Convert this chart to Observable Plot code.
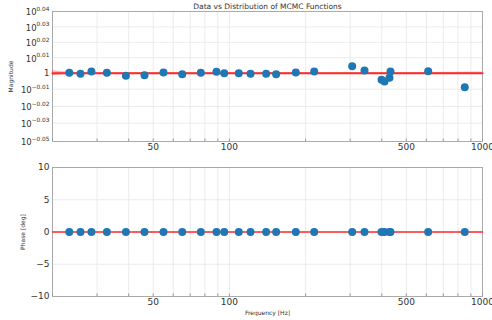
<!DOCTYPE html>
<html><head><meta charset="utf-8">
<script src="https://cdn.jsdelivr.net/npm/d3@7"></script>
<script src="https://cdn.jsdelivr.net/npm/@observablehq/plot@0.6"></script>
<style>
body{margin:0;background:#fff;font-family:"DejaVu Sans",sans-serif;}
#chart svg{display:block;}
</style>
</head><body><div id="chart"></div>
<script>
// Measured data points
const freqs = [23.3, 25.8, 28.5, 32.8, 39.0, 46.2, 54.9, 65.1, 77.1, 88.9, 95.4, 108.9, 121.2, 139.7, 153, 183, 216.3, 305.6, 341.8, 399, 410, 429, 432.9, 610, 851];
const magnitudes = [1.0006, 0.9991, 1.0025, 1.0006, 0.9961, 0.9970, 1.0010, 0.9985, 1.0006, 1.0021, 1.0000, 1.0000, 0.9991, 0.9991, 0.9985, 1.0010, 1.0025, 1.0105, 1.0040, 0.9902, 0.9877, 0.9932, 1.0025, 1.0030, 0.9793];
const phases = [0, 0, 0, 0, 0, 0, 0, 0, 0, 0, 0, 0, 0, 0, 0, 0, 0, 0, 0, 0, 0, 0, 0, 0, 0];

// Model (MCMC distribution) curve and band
const modelFreq = [20, 1000];
const modelMag = [1.0, 1.0];
const modelPhase = [0, 0];
const bandFreq = [20, 21, 22, 23, 25, 30, 100, 400, 600, 800, 1000];
const bandLow  = [0.9963, 0.9970, 0.9977, 0.9984, 0.9991, 0.9995, 0.9995, 0.9995, 0.9991, 0.9986, 0.9982];
const bandHigh = [1.0037, 1.0030, 1.0023, 1.0016, 1.0009, 1.0005, 1.0005, 1.0005, 1.0009, 1.0014, 1.0018];

// Axes
const xTicks = [50, 100, 500, 1000];
const xGrid = [20, 30, 40, 50, 60, 70, 80, 90, 100, 200, 300, 400, 500, 600, 700, 800, 900, 1000];
const magTickExp = [0.04, 0.03, 0.02, 0.01, 0, -0.0104, -0.0216, -0.0324, -0.0443];
const magTickLabels = ["10^0.04", "10^0.03", "10^0.02", "10^0.01", "1", "10^−0.01", "10^−0.02", "10^−0.03", "10^−0.05"];
const phaseTicks = [10, 5, 0, -5, -10];

const pts = freqs.map((f, i) => ({f, m: magnitudes[i], p: phases[i]}));
const model = modelFreq.map((f, i) => ({f, m: modelMag[i], p: modelPhase[i]}));
const band = bandFreq.map((f, i) => ({f, lo: bandLow[i], hi: bandHigh[i]}));

const W = 492;
const gridColor = "#e6e6e6";
const textColor = "#333";
const dotColor = "#1f77b4";
const redColor = "#ff2a2a";

const topPlot = Plot.plot({
  width: W, height: 155,
  marginLeft: 52, marginRight: 10, marginTop: 11, marginBottom: 14,
  style: {fontFamily: "DejaVu Sans", background: "#fff", overflow: "visible"},
  x: {type: "log", domain: [20, 1000], label: null},
  y: {domain: [-0.0443, 0.04], label: null},
  marks: [
    Plot.ruleX(xGrid, {stroke: gridColor, strokeWidth: 0.8}),
    Plot.ruleY(magTickExp, {stroke: gridColor, strokeWidth: 0.8}),
    Plot.frame({stroke: "#aaa"}),
    Plot.areaY(band, {x: "f", y1: d => Math.log10(d.lo), y2: d => Math.log10(d.hi), fill: "#ff0000", fillOpacity: 0.3}),
    Plot.line(model, {x: "f", y: d => Math.log10(d.m), stroke: redColor, strokeWidth: 2}),
    Plot.dot(pts, {x: "f", y: d => Math.log10(d.m), r: 4, fill: dotColor}),
    Plot.axisX({ticks: xGrid, tickSize: 2.5, dy: -2.5, tickFormat: () => "", stroke: "#999", label: null}),
    Plot.axisX({ticks: xTicks, tickFormat: d => String(d), tickSize: 0, tickPadding: 2, fontSize: 9, color: textColor, label: null}),
    Plot.axisY({ticks: magTickExp, tickFormat: (d, i) => magTickLabels[i], tickSize: 0, tickPadding: 3, fontSize: 8.5, color: textColor, label: null}),
    Plot.text(["Data vs Distribution of MCMC Functions"], {frameAnchor: "top", lineAnchor: "middle", textAnchor: "middle", dy: -4.5, fontSize: 7.5, fill: textColor}),
    Plot.text(["Magnitude"], {frameAnchor: "left", textAnchor: "middle", lineAnchor: "middle", rotate: -90, dx: -41, fontSize: 6, fill: textColor})
  ]
});

// superscript exponents on magnitude ticks
d3.select(topPlot).selectAll('g[aria-label="y-axis tick label"] text').each(function() {
  const t = this.textContent;
  if (t.includes("^")) {
    const [base, exp] = t.split("^");
    const sel = d3.select(this);
    sel.text(null);
    sel.append("tspan").attr("dy", "1.2").text(base);
    sel.append("tspan").attr("dy", "-4.6").attr("font-size", 5.8).text(exp);
  }
});

const botPlot = Plot.plot({
  width: W, height: 165,
  marginLeft: 52, marginRight: 10, marginTop: 12, marginBottom: 24,
  style: {fontFamily: "DejaVu Sans", background: "#fff", overflow: "visible"},
  x: {type: "log", domain: [20, 1000], label: null},
  y: {domain: [-10, 10], label: null},
  marks: [
    Plot.ruleX(xGrid, {stroke: gridColor, strokeWidth: 0.8}),
    Plot.ruleY(phaseTicks, {stroke: gridColor, strokeWidth: 0.8}),
    Plot.frame({stroke: "#aaa"}),
    Plot.line(model, {x: "f", y: "p", stroke: redColor, strokeWidth: 1.5}),
    Plot.dot(pts, {x: "f", y: "p", r: 4, fill: dotColor}),
    Plot.axisX({ticks: xGrid, tickSize: 2.5, dy: -2.5, tickFormat: () => "", stroke: "#999", label: null}),
    Plot.axisX({ticks: xTicks, tickFormat: d => String(d), tickSize: 0, tickPadding: 2, fontSize: 9, color: textColor, label: null}),
    Plot.axisY({ticks: phaseTicks, tickSize: 0, tickPadding: 3, fontSize: 9, color: textColor, label: null}),
    Plot.text(["Phase [deg]"], {frameAnchor: "left", textAnchor: "middle", lineAnchor: "middle", rotate: -90, dx: -29.3, fontSize: 6, fill: textColor}),
    Plot.text(["Frequency [Hz]"], {frameAnchor: "bottom", textAnchor: "middle", lineAnchor: "middle", dy: 17, fontSize: 6, fill: textColor})
  ]
});

const chart = document.getElementById("chart");
chart.appendChild(topPlot);
chart.appendChild(botPlot);
</script>
</body></html>
